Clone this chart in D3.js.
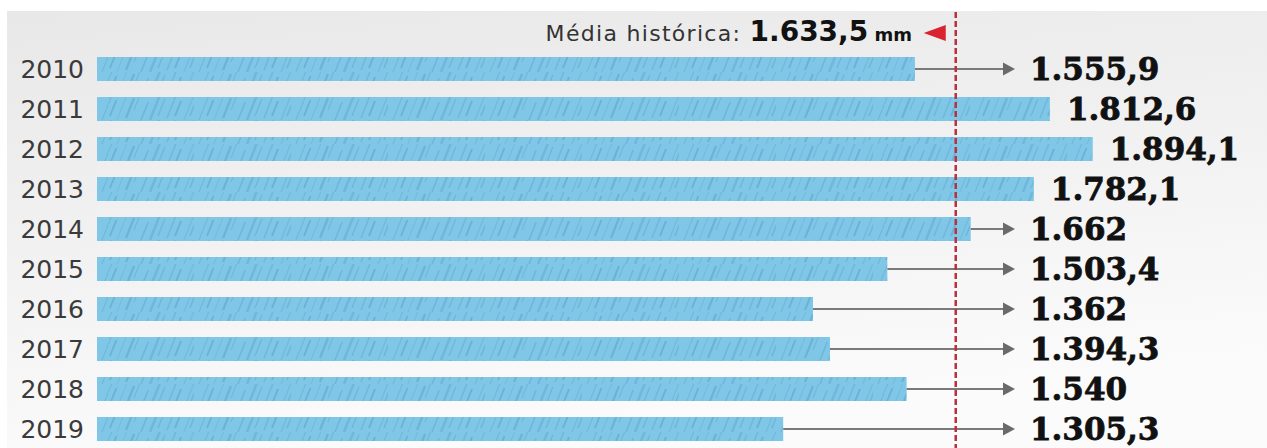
<!DOCTYPE html>
<html><head><meta charset="utf-8">
<script src="https://cdn.jsdelivr.net/npm/d3@7/dist/d3.min.js"></script>
<style>html,body{margin:0;padding:0;background:#fff;overflow:hidden}</style>
</head><body>
<svg id="c" width="1267" height="448"></svg>
<script>
const years = ["2010","2011","2012","2013","2014","2015","2016","2017","2018","2019"];
const values = [1555.9,1812.6,1894.1,1782.1,1662,1503.4,1362,1394.3,1540,1305.3];
const valueLabels = ["1.555,9","1.812,6","1.894,1","1.782,1","1.662","1.503,4","1.362","1.394,3","1.540","1.305,3"];
const mean = 1633.5;
const meanLabel = "1.633,5";

const svg = d3.select("#c");
const defs = svg.append("defs");
const bg = defs.append("linearGradient").attr("id","bg").attr("x1",0).attr("y1",0).attr("x2",0.3).attr("y2",1);
bg.append("stop").attr("offset","0%").attr("stop-color","#e8e8e8");
bg.append("stop").attr("offset","60%").attr("stop-color","#f3f3f3");
bg.append("stop").attr("offset","100%").attr("stop-color","#fbfbfb");

const pat = defs.append("pattern").attr("id","streak").attr("patternUnits","userSpaceOnUse")
  .attr("width",97).attr("height",24);
pat.append("rect").attr("width",97).attr("height",24).attr("fill","#80c6e6");
[[5,0,24,1.2,0.35],[13,4,16,1.8,0.5],[20,0,24,1,0.3],[29,2,20,2.2,0.45],[37,0,14,1.2,0.35],[44,6,18,1.5,0.4],
 [53,0,24,2.5,0.35],[61,3,17,1.1,0.45],[70,0,22,1.6,0.35],[78,5,15,2,0.5],[87,0,24,1.2,0.3],[93,8,12,1.5,0.4]].forEach(([x0,y0,len,w,o])=>{
  pat.append("line").attr("x1",x0).attr("y1",y0+len).attr("x2",x0+len*0.4).attr("y2",y0)
    .attr("stroke","#4e9fc6").attr("stroke-width",w).attr("stroke-opacity",o);
});

svg.append("rect").attr("x",7).attr("y",11).attr("width",1260).attr("height",437).attr("fill","url(#bg)");

const x = d3.scaleLinear().domain([0,2000]).range([97,1148.4]);
const y = d3.scaleBand().domain(years).range([49,449]).paddingInner(0.4).paddingOuter(0.2);

// year labels
svg.append("g").selectAll("text").data(years).join("text")
  .attr("x",84).attr("y",d=>y(d)+y.bandwidth()/2+9)
  .attr("text-anchor","end").attr("font-family","DejaVu Sans").attr("font-size",25)
  .attr("fill","#3a3a3a").text(d=>d);

// bars
svg.append("g").selectAll("rect").data(years).join("rect")
  .attr("x",x(0)).attr("y",d=>y(d)).attr("height",y.bandwidth())
  .attr("width",(d,i)=>x(values[i])-x(0)).attr("fill","url(#streak)");

const arrowTip = 1015;
const g = svg.append("g");
years.forEach((yr,i)=>{
  const end = x(values[i]);
  const cy = y(yr)+y.bandwidth()/2;
  let lx;
  if (end < 1000) {
    g.append("line").attr("x1",end).attr("x2",arrowTip-10).attr("y1",cy).attr("y2",cy)
      .attr("stroke","#7a7a7a").attr("stroke-width",2);
    g.append("path").attr("d",`M${arrowTip},${cy} L${arrowTip-12},${cy-6.5} L${arrowTip-12},${cy+6.5} Z`).attr("fill","#6a6a6a");
    lx = 1030;
  } else {
    lx = end + 17;
  }
  g.append("text").attr("x",lx).attr("y",cy+11)
    .attr("font-family","DejaVu Serif").attr("font-weight","bold").attr("font-size",31)
    .attr("fill","#111").attr("stroke","#111").attr("stroke-width",0.8).text(valueLabels[i]);
});

// mean line
const mx = x(mean);
svg.append("line").attr("x1",mx).attr("x2",mx).attr("y1",12).attr("y2",448)
  .attr("stroke","#b8313c").attr("stroke-width",2.5).attr("stroke-dasharray","6,3");

const t = svg.append("text").attr("x",912).attr("y",41).attr("text-anchor","end")
  .attr("font-family","DejaVu Sans").attr("fill","#333");
t.append("tspan").attr("font-size",22).attr("letter-spacing",1.3).text("Média histórica: ");
t.append("tspan").attr("font-size",28).attr("font-weight","bold").attr("fill","#111").text(meanLabel);
t.append("tspan").attr("font-size",18).attr("font-weight","bold").attr("fill","#111").text(" mm");
svg.append("path").attr("d",`M${mx-32},33 L${mx-10},25 L${mx-10},41 Z`).attr("fill","#d9232e");
</script>
</body></html>
